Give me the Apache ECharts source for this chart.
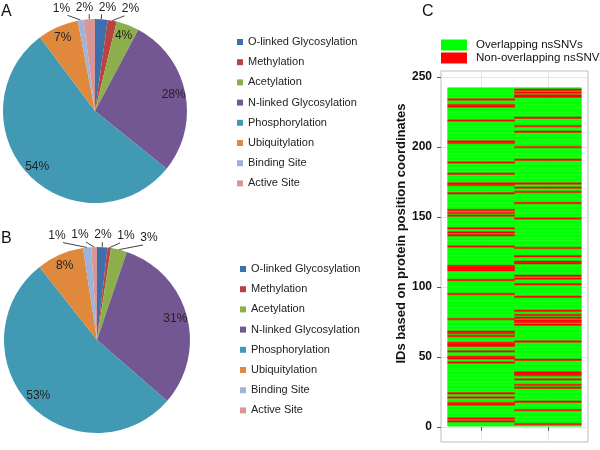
<!DOCTYPE html>
<html><head><meta charset="utf-8">
<script src="https://cdn.jsdelivr.net/npm/echarts@6/dist/echarts.min.js"></script>
<style>html,body{margin:0;padding:0;background:#fff}#c{width:600px;height:450px}</style>
</head><body><div id="c"></div>
<script>
const categories = ['O-linked Glycosylation','Methylation','Acetylation','N-linked Glycosylation','Phosphorylation','Ubiquitylation','Binding Site','Active Site'];
const pieAValues = [2.2, 1.6, 4.0, 28.0, 54.0, 7.2, 1.0, 2.0];
const pieBValues = [1.8, 0.6, 2.8, 31.2, 53.0, 8.2, 1.4, 1.0];
const pieColors = ['#3E6FAD','#B94341','#8CAF4B','#735792','#4299B3','#E0893C','#9DB3DB','#D99696'];

const rowCount = 242;
const columns = [1, 2];
const redRowsCol1 = [4,6,16,17,21,24,46,49,50,54,58,59,60,65,67,68,77,95,105,112,113,114,115,129,137,139,142,151,153,155,167,173,174,181,189,203,204,219,229,230,234];
const redRowsCol2 = [2,12,18,28,30,34,37,38,39,48,61,73,75,76,78,80,83,93,102,106,108,117,118,122,128,149,160,168,171,174,191,200,211,215,221,236,237,239,241];
const yTicks = [0, 50, 100, 150, 200, 250];
const statusLabels = ['Overlapping nsSNVs', 'Non-overlapping nsSNVs'];
const statusColors = ['#00FF00', '#FF0000'];

const FONT = 'Liberation Sans, Arial, sans-serif';
const SMALL = 3.5; // slices below this get outside labels

// cells: [column, row, status] ; status 1 = non-overlapping (red)
const cellData = [];
[redRowsCol1, redRowsCol2].forEach((reds, ci) => {
  for (let r = 1; r <= rowCount; r++) cellData.push([columns[ci], r, reds.includes(r) ? 1 : 0]);
});
cellData.sort((a, b) => a[2] - b[2]);

// layout of the outside labels of small slices: radial position, then spread apart in x
function outsideLayout(vals, center, r) {
  const total = vals.reduce((a, b) => a + b, 0);
  let cum = 0; const items = [];
  vals.forEach((v, i) => {
    const mid = (cum + v / 2) / total * 2 * Math.PI; cum += v;
    if (v < SMALL) {
      const R = r + 12;
      items.push({ i, ex: center[0] + r * Math.sin(mid), ey: center[1] - r * Math.cos(mid),
                   x: center[0] + R * Math.sin(mid), y: center[1] - R * Math.cos(mid) });
    }
  });
  items.sort((a, b) => a.x - b.x);
  const gap = 23;
  for (let pass = 0; pass < 60; pass++) {
    for (let k = 1; k < items.length; k++) {
      const d = items[k].x - items[k - 1].x;
      if (d < gap) { const s = (gap - d) / 2; items[k].x += s; items[k - 1].x -= s; }
    }
  }
  const map = {};
  items.forEach(it => {
    const tx = Math.min(Math.max(it.ex, it.x - 6), it.x + 6);
    map[it.i] = { x: it.x, y: it.y, align: 'center', verticalAlign: 'middle',
                  labelLinePoints: [[it.ex, it.ey], [tx, it.y + 7]] };
  });
  return map;
}

function pieData(vals) {
  return vals.map((v, i) => ({ name: categories[i], value: v }));
}
function labelData(vals) {
  return vals.map((v, i) => {
    const out = v < SMALL;
    return {
      name: categories[i], value: v,
      label: { show: true, position: out ? 'outside' : 'inside' },
      labelLine: { show: out }
    };
  });
}
function pieSeries(vals, center, r) {
  const lay = outsideLayout(vals, center, r);
  return [
    { type: 'pie', radius: r, center: center, startAngle: 90, clockwise: true, silent: true,
      data: pieData(vals),
      itemStyle: { color: p => pieColors[p.dataIndex] },
      label: { show: false }, labelLine: { show: false } },
    { type: 'pie', radius: [r * 0.68, r], center: center, startAngle: 90, clockwise: true, silent: true,
      legendHoverLink: false, avoidLabelOverlap: false,
      data: labelData(vals),
      itemStyle: { color: 'rgba(0,0,0,0)' },
      label: { formatter: p => Math.round(p.percent) + '%', fontSize: 12, color: '#222', fontFamily: FONT },
      labelLine: { length: 8, length2: 4, lineStyle: { color: '#444', width: 1 } },
      labelLayout: p => lay[p.dataIndex] || {},
      emphasis: { disabled: true } }
  ];
}

const legendBase = {
  data: categories, orient: 'vertical', icon: 'rect', itemWidth: 6, itemHeight: 6, itemGap: 8.2,
  padding: 0, selectedMode: false,
  textStyle: { fontSize: 11, lineHeight: 12, color: '#222', fontFamily: FONT }
};

const chart = echarts.init(document.getElementById('c'));
chart.setOption({
  animation: false,
  backgroundColor: '#fff',
  title: [
    { text: 'A', left: 1, top: 4, padding: 0, textStyle: { fontSize: 16, fontWeight: 'normal', color: '#111', fontFamily: FONT } },
    { text: 'B', left: 1, top: 231, padding: 0, textStyle: { fontSize: 16, fontWeight: 'normal', color: '#111', fontFamily: FONT } },
    { text: 'C', left: 422, top: 4, padding: 0, textStyle: { fontSize: 16, fontWeight: 'normal', color: '#111', fontFamily: FONT } }
  ],
  legend: [
    Object.assign({}, legendBase, { left: 237, top: 36 }),
    Object.assign({}, legendBase, { left: 240, top: 263 })
  ],
  visualMap: {
    type: 'piecewise', seriesIndex: 4, dimension: 2, orient: 'vertical', inverse: true, align: 'left',
    pieces: [
      { value: 0, label: statusLabels[0], color: statusColors[0] },
      { value: 1, label: statusLabels[1], color: statusColors[1] }
    ],
    left: 441, top: 39, itemWidth: 26, itemHeight: 11, itemGap: 1, textGap: 9,
    itemSymbol: 'rect', selectedMode: false, padding: 0,
    textStyle: { fontSize: 11.5, lineHeight: 12, color: '#111', fontFamily: FONT }
  },
  grid: { left: 441, right: 12, top: 71, bottom: 3, show: true, borderColor: '#bdbdbd', borderWidth: 1, backgroundColor: '#fff' },
  xAxis: {
    type: 'value', min: 0.4, max: 2.6,
    axisLine: { show: false },
    axisTick: { show: true, customValues: columns, length: 4, lineStyle: { color: '#555' } },
    axisLabel: { show: true, customValues: columns, formatter: () => '' },
    splitLine: { show: true, lineStyle: { color: '#e6e6e6' } }
  },
  yAxis: {
    type: 'value', min: -10.8, max: 254.4,
    name: 'IDs based on protein position coordinates', nameLocation: 'middle', nameGap: 31,
    nameTextStyle: { fontSize: 13, fontWeight: 'bold', color: '#111', fontFamily: FONT, padding: [0, 0, 0, 46] },
    axisLine: { show: false },
    axisTick: { show: true, customValues: yTicks, length: 4, lineStyle: { color: '#555' } },
    axisLabel: { customValues: yTicks, margin: 9, fontSize: 12, fontWeight: 'bold', color: '#111', fontFamily: FONT },
    splitLine: { show: true, lineStyle: { color: '#e6e6e6' } }
  },
  series: [
    ...pieSeries(pieAValues, [95, 111], 92),
    ...pieSeries(pieBValues, [97, 340], 93),
    {
      type: 'custom', coordinateSystem: 'cartesian2d', silent: true,
      data: cellData,
      encode: { x: 0, y: 1 },
      renderItem: (params, api) => {
        const x = api.value(0), y = api.value(1);
        const p1 = api.coord([x - 0.5, y + 0.5]);
        const p2 = api.coord([x + 0.5, y - 0.5]);
        const c = api.visual('color');
        return { type: 'rect', shape: { x: p1[0], y: p1[1], width: p2[0] - p1[0], height: p2[1] - p1[1] },
                 style: { fill: c, stroke: c, lineWidth: 0.5 } };
      }
    }
  ]
});
</script></body></html>
